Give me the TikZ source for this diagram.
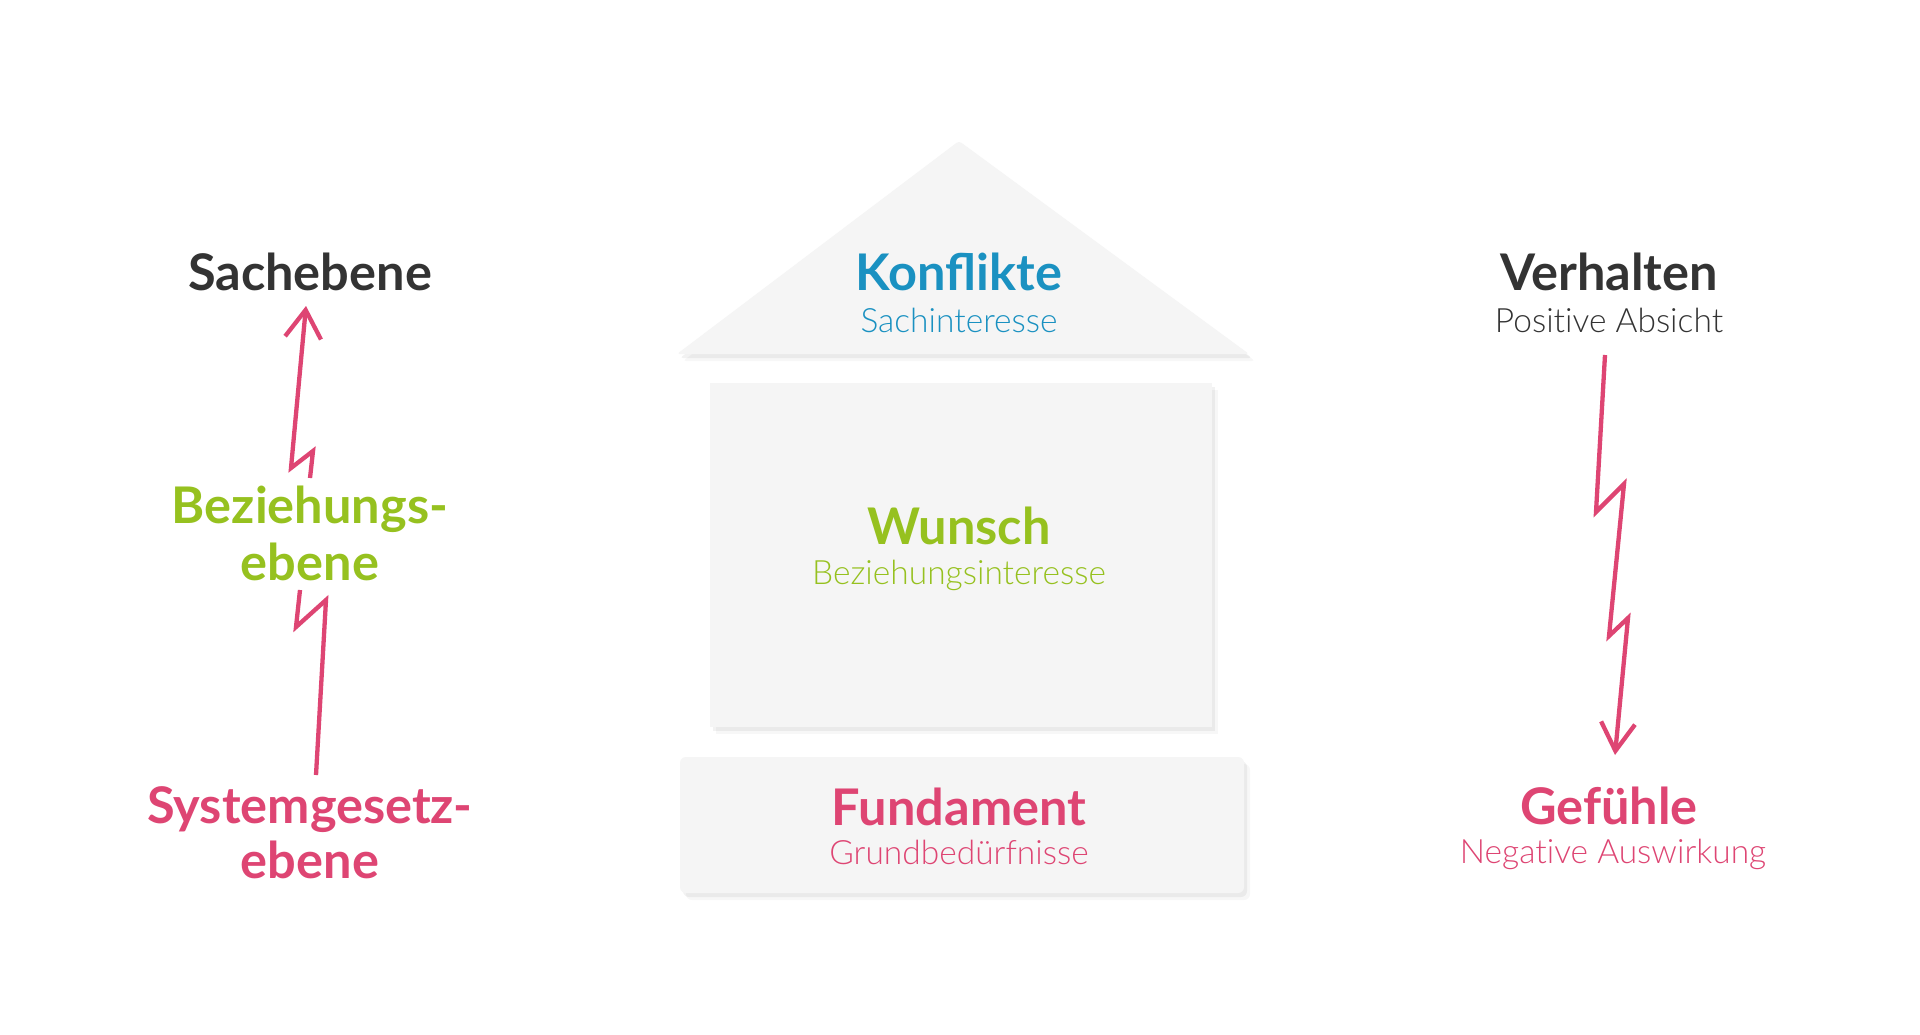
\documentclass[tikz,border=0pt]{standalone}
\usepackage{fontspec}
\setmainfont{Lato}
\newfontfamily\lightfont{Lato Light}[Ligatures=NoCommon]
\usetikzlibrary{arrows.meta,shadows}
\definecolor{darktext}{HTML}{333333}
\definecolor{konfblue}{HTML}{1A91C1}
\definecolor{bezgreen}{HTML}{96C11F}
\definecolor{syspink}{HTML}{DE4573}
\definecolor{housegray}{HTML}{F5F5F5}
\tikzstyle{head}=[anchor=base,inner sep=0pt,font=\fontsize{50.5}{58}\selectfont\bfseries]
\tikzstyle{sub}=[anchor=base,inner sep=0pt,font=\fontsize{33.5}{40}\selectfont\lightfont]
\tikzstyle{block}=[fill=housegray,drop shadow={shadow xshift=3pt,shadow yshift=-4pt,fill=black,opacity=0.05},
                   drop shadow={shadow xshift=6pt,shadow yshift=-7pt,fill=black,opacity=0.03}]
\tikzstyle{bolt}=[draw=syspink,line width=4.3pt,line join=miter]

\begin{document}
\begin{tikzpicture}[x=1pt,y=-1pt]
    \useasboundingbox[fill=white] (0,0) rectangle (1920,1034);

    % house
    \path[block,rounded corners=3pt] (677,354) -- (959,141) -- (1249,354) -- cycle;
    \path[block] (710,383) rectangle (1212,727);
    \path[block,rounded corners=6pt] (680,757) rectangle (1244,893);

    % titles
    \foreach \pos/\name/\col/\txt in {{(310,290)/sach/darktext/Sachebene},
                            {(959,290)/konf/konfblue/Konflikte},
                            {(1609,290)/verh/darktext/Verhalten},
                            {(310,523)/bez/bezgreen/Beziehungs-},
                            {(310,580)/bezb/bezgreen/ebene},
                            {(959,544)/wunsch/bezgreen/Wunsch},
                            {(310,823)/sys/syspink/Systemgesetz-},
                            {(310,878)/sysb/syspink/ebene},
                            {(959,825)/fund/syspink/Fundament},
                            {(1609,824)/gef/syspink/Gefühle}}
        \node[head,text=\col] (\name) at \pos {\txt};
    \foreach \pos/\name/\col/\txt in {{(959,332)/konfsub/konfblue/Sachinteresse},
                            {(1609,332)/verhsub/darktext/Positive Absicht},
                            {(959,584)/wunschsub/bezgreen/Beziehungsinteresse},
                            {(959,864)/fundsub/syspink/Grundbedürfnisse},
                            {(1613,863)/gefsub/syspink/Negative Auswirkung}}
        \node[sub,text=\col] (\name) at \pos {\txt};

    % bolts
    \foreach \pos/\name in {{(316,775)/l1}, {(326,600)/l2}, {(296,627)/l3}, {(300,590)/l4},
                            {(310,478)/u1}, {(313,451)/u2}, {(291,468)/u3}, {(306,306)/u4},
                            {(1605,355)/r1}, {(1596,512)/r2}, {(1624,484)/r3},
                            {(1609,636)/r4}, {(1628,618)/r5}, {(1615,755)/r6}}
        \path \pos coordinate (\name);
    \draw[bolt] (l1) -- (l2) -- (l3) -- (l4);
    \draw[bolt,-{Straight Barb[length=28pt,width=36pt]}] (u1) -- (u2) -- (u3) -- (u4);
    \draw[bolt,-{Straight Barb[length=28pt,width=34pt]}] (r1) -- (r2) -- (r3) -- (r4) -- (r5) -- (r6);
\end{tikzpicture}
\end{document}
